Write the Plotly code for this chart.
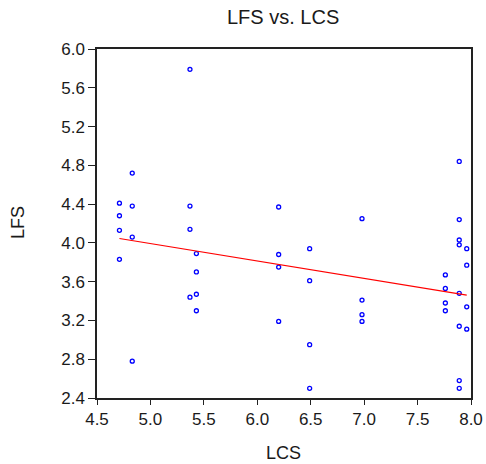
import numpy as np
import plotly.graph_objects as go

# LCS (x) and LFS (y) values
lcs = [4.71, 4.71, 4.71, 4.71,
       4.83, 4.83, 4.83, 4.83,
       5.37, 5.37, 5.37, 5.37,
       5.43, 5.43, 5.43, 5.43,
       6.20, 6.20, 6.20, 6.20,
       6.49, 6.49, 6.49, 6.49,
       6.98, 6.98, 6.98, 6.98,
       7.76, 7.76, 7.76, 7.76,
       7.89, 7.89, 7.89, 7.89, 7.89, 7.89, 7.89, 7.89,
       7.96, 7.96, 7.96, 7.96]
lfs = [4.41, 4.28, 4.13, 3.83,
       4.72, 4.38, 4.06, 2.78,
       5.79, 4.38, 4.14, 3.44,
       3.89, 3.70, 3.47, 3.30,
       4.37, 3.88, 3.75, 3.19,
       3.94, 3.61, 2.95, 2.50,
       4.25, 3.41, 3.26, 3.19,
       3.67, 3.53, 3.38, 3.30,
       4.84, 4.24, 4.03, 3.98, 3.48, 3.14, 2.58, 2.50,
       3.94, 3.77, 3.34, 3.11]

x_ticks = [4.5, 5.0, 5.5, 6.0, 6.5, 7.0, 7.5, 8.0]
y_ticks = [2.4, 2.8, 3.2, 3.6, 4.0, 4.4, 4.8, 5.2, 5.6, 6.0]

slope, intercept = np.polyfit(lcs, lfs, 1)
xl = np.array([min(lcs), max(lcs)])
yl = intercept + slope * xl

fig = go.Figure()
fig.add_trace(go.Scatter(x=lcs, y=lfs, mode="markers",
                         marker=dict(symbol="circle-open", size=4, color="#0000ff",
                                     line=dict(width=1.3, color="#0000ff")),
                         showlegend=False, hoverinfo="skip"))
fig.add_trace(go.Scatter(x=xl, y=yl, mode="lines",
                         line=dict(color="#ff0000", width=1.2), showlegend=False,
                         hoverinfo="skip"))

fnt = "Liberation Sans, Arial, sans-serif"
txt = "#1a1a1a"
W, H = 486, 464
L, R, T, B = 97, 15, 49, 66
pw, ph = W - L - R, H - T - B
fig.update_layout(
    width=W, height=H,
    margin=dict(l=L, r=R, t=T, b=B, autoexpand=False),
    paper_bgcolor="white", plot_bgcolor="white",
    font=dict(family=fnt, color=txt),
    xaxis=dict(range=[4.5, 8.0], tickvals=x_ticks, ticktext=[f"{v:.1f}" for v in x_ticks],
               automargin=False,
               showgrid=False, zeroline=False, showline=True, linecolor="#222", linewidth=1.5,
               mirror=True, ticks="outside", ticklen=5, tickcolor="#222",
               tickfont=dict(size=17, family=fnt, color=txt)),
    yaxis=dict(range=[2.4, 6.0], tickvals=y_ticks, ticktext=[f"{v:.1f}" for v in y_ticks],
               automargin=False,
               showgrid=False, zeroline=False, showline=True, linecolor="#222", linewidth=1.5,
               mirror=True, ticks="outside", ticklen=7, tickcolor="#222",
               tickfont=dict(size=17, family=fnt, color=txt)),
    annotations=[
        dict(text="LFS vs. LCS", xref="paper", yref="paper",
             x=(283 - L) / pw, y=(H - B - 17) / ph, xanchor="center", yanchor="middle",
             showarrow=False, font=dict(size=20, family=fnt, color=txt)),
        dict(text="LFS", xref="paper", yref="paper", textangle=-90,
             x=(18 - L) / pw, y=(H - B - 223) / ph, xanchor="center", yanchor="middle",
             showarrow=False, font=dict(size=18, family=fnt, color=txt)),
        dict(text="LCS", xref="paper", yref="paper",
             x=(283 - L) / pw, y=(H - B - 453) / ph, xanchor="center", yanchor="middle",
             showarrow=False, font=dict(size=18, family=fnt, color=txt)),
    ],
)
fig.write_html("out.html", config={"displayModeBar": False},
               post_script="document.body.style.margin='0';document.body.style.overflow='hidden';")
